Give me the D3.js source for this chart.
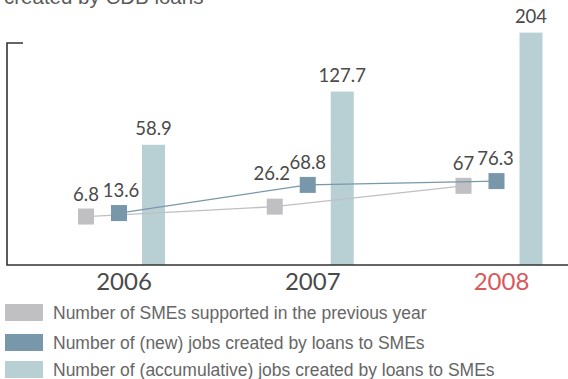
<!DOCTYPE html>
<html>
<head>
<meta charset="utf-8">
<script src="https://cdn.jsdelivr.net/npm/d3@7/dist/d3.min.js"></script>
<style>
  html, body { margin: 0; padding: 0; background: #fff; }
  svg { display: block; }
</style>
</head>
<body>
<svg id="chart" width="568" height="379"></svg>
<script>
// Years on the horizontal axis
const years = ["2006", "2007", "2008"];
// Number of SMEs supported in the previous year
const smesPrevYear = [6.8, 26.2, 67];
// Number of (new) jobs created by loans to SMEs
const newJobs = [13.6, 68.8, 76.3];
// Number of (accumulative) jobs created by loans to SMEs
const accumJobs = [58.9, 127.7, 204];
// Legend entries
const legendLabels = [
  "Number of SMEs supported in the previous year",
  "Number of (new) jobs created by loans to SMEs",
  "Number of (accumulative) jobs created by loans to SMEs"
];
const highlightYear = "2008";

const colors = { smes: "#c0c0c2", jobs: "#7897aa", accum: "#b8d0d4" };

const svg = d3.select("#chart");
const baseY = 265, axisX = 7;

// Category positions
const x = d3.scalePoint().domain(years).range([124, 501.5]);
// Bars and line markers sit on their own vertical scales
const yBar = d3.scaleLinear().domain([0, 200]).range([190.3, 35.7]);
const yPt = d3.scaleLinear().domain([0, 100]).range([220, 169]);

const numFont = "Lato, 'Open Sans', sans-serif";
const numColor = "#4a4a4a";

// Heading (partly above the frame)
svg.append("text")
  .attr("x", 4).attr("y", 4)
  .attr("font-family", "'Liberation Sans', Arial, sans-serif")
  .attr("font-size", 20.5)
  .attr("fill", "#5a5a5a")
  .text("created by CDB loans");

// Accumulative jobs bars
const barW = 23, barOff = 29.5;
svg.append("g").selectAll("rect")
  .data(accumJobs)
  .join("rect")
  .attr("x", (d, i) => x(years[i]) + barOff - barW / 2)
  .attr("y", d => yBar(d))
  .attr("width", barW)
  .attr("height", d => baseY - yBar(d))
  .attr("fill", colors.accum);

svg.append("g").selectAll("text")
  .data(accumJobs)
  .join("text")
  .attr("x", (d, i) => x(years[i]) + barOff)
  .attr("y", d => yBar(d) - 10)
  .attr("text-anchor", "middle")
  .attr("font-family", numFont)
  .attr("font-size", 18.5)
  .attr("fill", numColor)
  .text(d => d);

// Line series with square markers
const series = [
  { values: smesPrevYear, off: -38, color: colors.smes, labelDx: [0, -3, 0], labelDy: [0, -11, 0] },
  { values: newJobs, off: -5, color: colors.jobs, labelDx: [2, 0, -1], labelDy: [0, 0, 0] }
];
const sq = 16;

series.forEach(s => {
  const pts = s.values.map((v, i) => [x(years[i]) + s.off, yPt(v)]);
  svg.append("path")
    .attr("d", d3.line()(pts))
    .attr("fill", "none")
    .attr("stroke", s.color)
    .attr("stroke-width", 1.3);
  svg.append("g").selectAll("rect")
    .data(s.values)
    .join("rect")
    .attr("x", (d, i) => x(years[i]) + s.off - sq / 2)
    .attr("y", d => yPt(d) - sq / 2)
    .attr("width", sq)
    .attr("height", sq)
    .attr("fill", s.color);
});

series.forEach(s => {
  svg.append("g").selectAll("text")
    .data(s.values)
    .join("text")
    .attr("x", (d, i) => x(years[i]) + s.off + s.labelDx[i])
    .attr("y", (d, i) => yPt(d) - sq / 2 - 8 + s.labelDy[i])
    .attr("text-anchor", "middle")
    .attr("font-family", numFont)
    .attr("font-size", 18.5)
    .attr("fill", numColor)
    .text(d => d);
});

// Axes frame
svg.append("path")
  .attr("d", `M${axisX + 16},43H${axisX}V${baseY}H568`)
  .attr("fill", "none")
  .attr("stroke", "#333")
  .attr("stroke-width", 1.6);

// Year labels
svg.append("g").selectAll("text")
  .data(years)
  .join("text")
  .attr("x", d => x(d))
  .attr("y", 290)
  .attr("text-anchor", "middle")
  .attr("font-family", numFont)
  .attr("font-size", 24)
  .attr("fill", d => d === highlightYear ? "#d9585c" : numColor)
  .text(d => d);

// Legend
const legendColors = [colors.smes, colors.jobs, colors.accum];
const legendY = [304, 334, 361];
const lg = svg.append("g").selectAll("g")
  .data(legendLabels)
  .join("g")
  .attr("transform", (d, i) => `translate(5,${legendY[i]})`);
lg.append("rect")
  .attr("width", 38).attr("height", 17)
  .attr("fill", (d, i) => legendColors[i]);
lg.append("text")
  .attr("x", 48).attr("y", 15)
  .attr("font-family", "'Liberation Sans', Arial, sans-serif")
  .attr("font-size", 17.5)
  .attr("fill", "#666")
  .text(d => d);
</script>
</body>
</html>
